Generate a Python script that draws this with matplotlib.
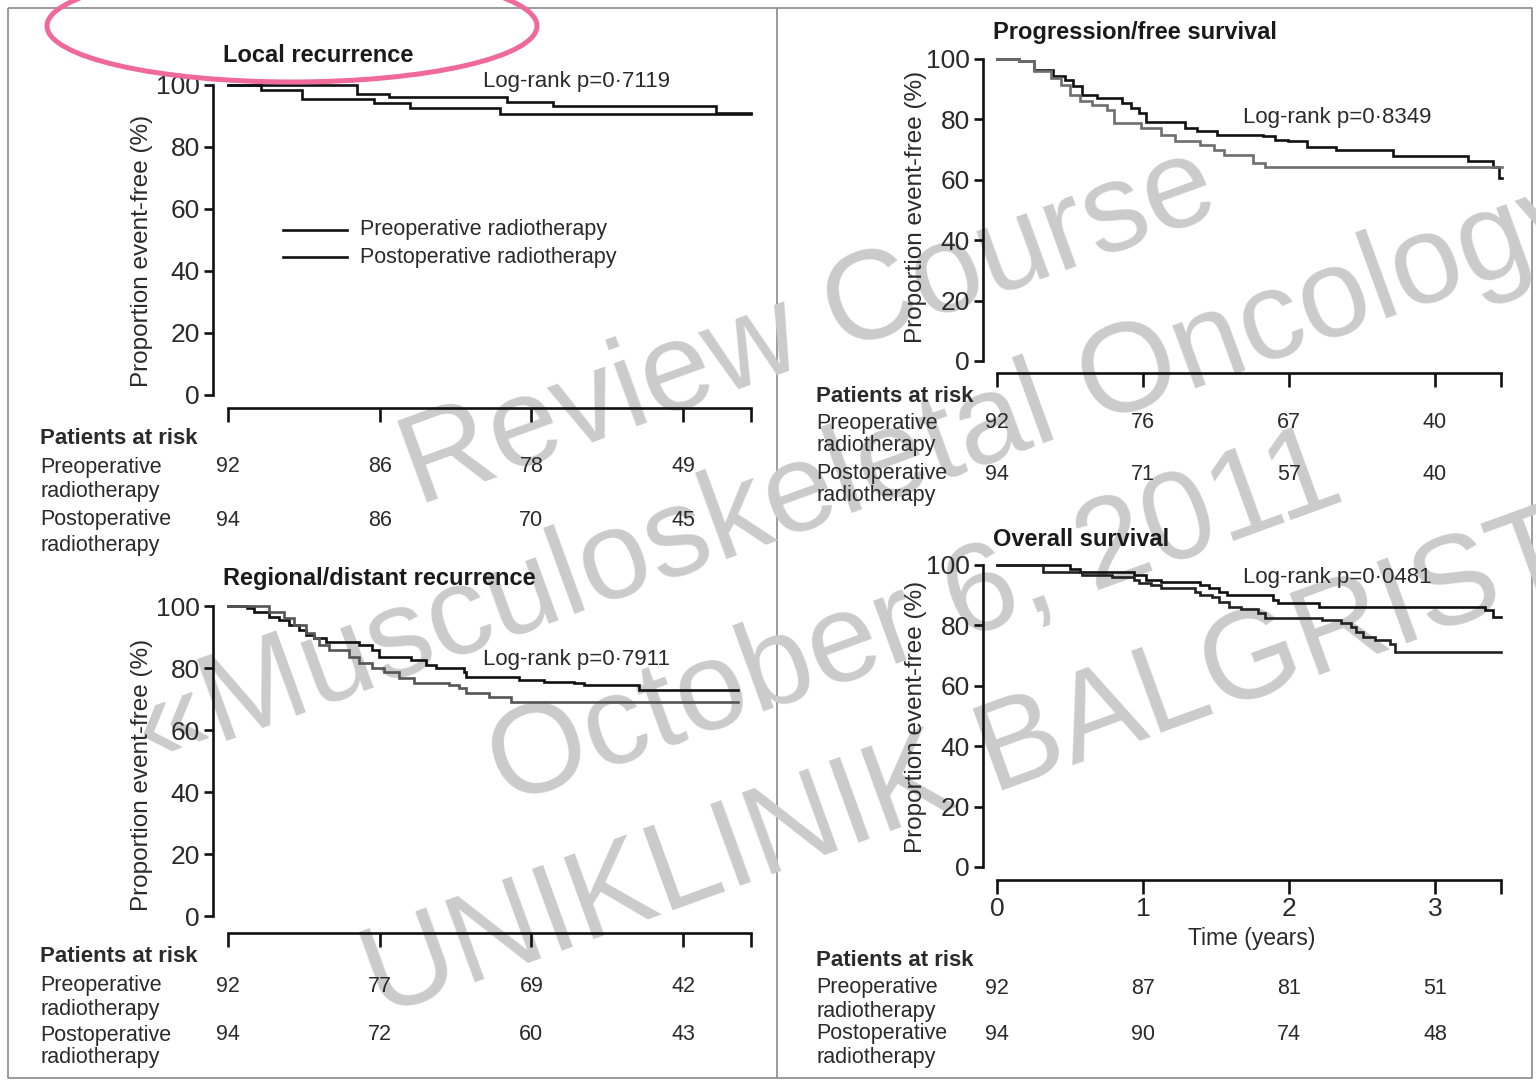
import matplotlib
matplotlib.use("Agg")
import matplotlib.pyplot as plt
from matplotlib.patches import Ellipse
from matplotlib.lines import Line2D
from matplotlib.transforms import blended_transform_factory
import numpy as np

W, H = 1536, 1080
plt.rcParams['font.family'] = ['Liberation Sans', 'DejaVu Sans']
TXT = '#2a2a2a'

# ---------------- data ----------------
years = [0, 1, 2, 3]
row_names = ['Preoperative', 'Postoperative']

# Local recurrence
lr_pre_t = [0, 0.85, 1.06, 1.84, 2.14, 3.22, 3.45]
lr_pre_s = [100, 97.0, 96.2, 94.6, 93.2, 90.9, 90.9]
lr_post_t = [0, 0.22, 0.49, 0.96, 1.20, 1.79, 3.45]
lr_post_s = [100, 98.4, 95.4, 94.3, 92.5, 90.6, 90.6]
lr_risk_pre = [92, 86, 78, 49]
lr_risk_post = [94, 86, 70, 45]
lr_p = 'Log-rank p=0\u00b77119'

# Progression-free survival
pfs_pre_t = [0, 0.15, 0.25, 0.385, 0.468, 0.518, 0.585, 0.686, 0.853, 0.92, 0.97,
             1.02, 1.288, 1.371, 1.505, 1.823, 1.906, 1.99, 2.124, 2.324, 2.709,
             3.227, 3.395, 3.44, 3.46]
pfs_pre_s = [100, 99.2, 96.5, 94.3, 93.1, 90.9, 88.2, 87.1, 85.4, 83.8, 82.1,
             79.3, 77.1, 76.0, 74.9, 74.4, 73.3, 72.7, 71.0, 69.9, 68.0,
             66.1, 64.4, 60.6, 60.6]
pfs_post_t = [0, 0.15, 0.251, 0.368, 0.435, 0.502, 0.569, 0.652, 0.753, 0.803,
              0.987, 1.12, 1.221, 1.388, 1.488, 1.555, 1.756, 1.839, 3.46]
pfs_post_s = [100, 99.2, 95.9, 93.7, 91.5, 88.2, 86.0, 84.9, 83.2, 78.8,
              77.1, 74.9, 72.7, 71.6, 69.9, 68.3, 65.5, 64.4, 64.4]
pfs_risk_pre = [92, 76, 67, 40]
pfs_risk_post = [94, 71, 57, 40]
pfs_p = 'Log-rank p=0\u00b78349'

# Regional/distant recurrence
rd_pre_t = [0, 0.122, 0.171, 0.27, 0.336, 0.402, 0.468, 0.517, 0.567, 0.649,
            0.863, 0.946, 0.995, 1.209, 1.308, 1.374, 1.555, 1.572, 1.918,
            2.082, 2.28, 2.346, 2.708, 3.36]
rd_pre_s = [100, 99.2, 98.2, 96.6, 95.5, 93.9, 92.3, 90.6, 89.6, 88.5,
            87.4, 85.8, 83.7, 82.6, 81.0, 79.9, 78.8, 77.2, 76.1,
            75.6, 75.1, 74.5, 72.9, 72.9]
rd_post_t = [0, 0.27, 0.369, 0.435, 0.517, 0.567, 0.6, 0.666, 0.797, 0.863,
             0.946, 1.028, 1.127, 1.226, 1.456, 1.522, 1.572, 1.72, 1.868, 3.36]
rd_post_s = [100, 98.2, 96.0, 93.9, 91.2, 89.6, 87.4, 85.8, 83.7, 81.5,
             79.9, 78.8, 76.7, 75.1, 74.5, 73.4, 71.8, 70.8, 69.1, 69.1]
rd_risk_pre = [92, 77, 69, 42]
rd_risk_post = [94, 72, 60, 43]
rd_p = 'Log-rank p=0\u00b77911'

# Overall survival
os_pre_t = [0, 0.502, 0.569, 0.936, 1.02, 1.12, 1.388, 1.455, 1.522, 1.572,
            1.89, 1.923, 2.207, 3.344, 3.395, 3.45]
os_pre_s = [100, 98.6, 97.8, 96.7, 95.0, 94.5, 93.4, 92.3, 91.2, 90.1,
            88.4, 87.3, 86.2, 85.1, 82.9, 82.9]
os_post_t = [0, 0.318, 0.585, 0.786, 0.936, 0.97, 1.054, 1.12, 1.355, 1.388,
             1.472, 1.522, 1.589, 1.672, 1.789, 1.839, 2.224, 2.358, 2.425,
             2.458, 2.508, 2.592, 2.692, 2.726, 3.45]
os_post_s = [100, 97.8, 96.7, 96.1, 95.0, 93.9, 93.4, 92.3, 91.2, 90.1,
             89.5, 87.8, 86.2, 85.3, 84.0, 82.3, 81.8, 80.7, 79.6,
             77.9, 76.2, 75.1, 74.0, 71.3, 71.3]
os_risk_pre = [92, 87, 81, 51]
os_risk_post = [94, 90, 74, 48]
os_p = 'Log-rank p=0\u00b70481'

watermark_lines = ['Review Course', '\u00abMusculoskeletal Oncology',
                   'October 6, 2011', 'UNIKLINIK BALGRIST']

# ---------------- figure ----------------
fig = plt.figure(figsize=(W / 100, H / 100), dpi=100)
fig.patch.set_facecolor('white')

# background layer in pixel coordinates (frame + watermark)
bg = fig.add_axes([0, 0, 1, 1], zorder=-10)
bg.set_xlim(0, W)
bg.set_ylim(H, 0)
bg.axis('off')

# foreground layer in pixel coordinates (labels, annotations)
fg = fig.add_axes([0, 0, 1, 1], zorder=5)
fg.set_xlim(0, W)
fg.set_ylim(H, 0)
fg.axis('off')
fg.patch.set_alpha(0)

frame_kw = dict(color='#8a8a8a', lw=1.2, solid_capstyle='butt')
bg.plot([7.5, 1531.5, 1531.5, 7.5, 7.5], [7.5, 7.5, 1078, 1078, 7.5], **frame_kw)
bg.plot([777, 777], [7.5, 1078], **frame_kw)

# watermark block, rotated and centred
ang = np.deg2rad(20)
c, s = np.cos(ang), np.sin(ang)
for i, line in enumerate(watermark_lines):
    a, p = 648, 618 + 156 * i
    x, y = c * a + s * p, -s * a + c * p
    bg.text(x, y, line, rotation=20, rotation_mode='anchor', ha='center',
            va='baseline', fontsize=91, color='#cbcbcb',
            family=['Liberation Sans', 'DejaVu Sans'], clip_on=False)


def make_panel(spine_x, t0_x, per_year, base_y, top_y, xaxis_y, t_end, show_years):
    t_left = (spine_x - t0_x) / per_year
    t_right = 3.6
    right_x = t0_x + t_right * per_year
    ax = fig.add_axes([spine_x / W, 1 - base_y / H, (right_x - spine_x) / W,
                       (base_y - top_y) / H], zorder=1)
    ax.patch.set_alpha(0)
    ax.set_xlim(t_left, t_right)
    ax.set_ylim(0, 100)
    for side in ('top', 'right'):
        ax.spines[side].set_visible(False)
    ax.spines['left'].set_bounds(0, 100)
    ax.spines['bottom'].set_position(('outward', (xaxis_y - base_y) * 0.72))
    ax.spines['bottom'].set_bounds(0, t_end)
    for side in ('left', 'bottom'):
        ax.spines[side].set_linewidth(1.9)
        ax.spines[side].set_color('#111111')
    ax.set_yticks(range(0, 101, 20))
    ax.set_xticks(years + [t_end])
    if show_years:
        ax.set_xticklabels([str(v) for v in years] + [''])
    else:
        ax.set_xticklabels([''] * 5)
    ax.tick_params(axis='y', direction='out', length=6.5, width=1.9, pad=3,
                   labelsize=19, labelcolor=TXT, color='#111111')
    ax.tick_params(axis='x', direction='out', length=10, width=1.9, pad=2,
                   labelsize=19, labelcolor=TXT, color='#111111')
    return ax


def km(ax, t, sv, color):
    ax.step(t, sv, where='post', color=color, lw=1.9, clip_on=False,
            solid_joinstyle='miter')


def risk_table(ax, label_x, head_y, rows_y, pre, post, dy):
    fg.text(label_x, head_y, 'Patients at risk', fontsize=16, fontweight='bold',
            color=TXT, va='center', ha='left')
    tr = blended_transform_factory(ax.transData, fg.transData)
    for name, ry, counts in zip(row_names, rows_y, (pre, post)):
        fg.text(label_x, ry, name, fontsize=15.5, color=TXT, va='center', ha='left')
        fg.text(label_x, ry + dy, 'radiotherapy', fontsize=15.5, color=TXT,
                va='center', ha='left')
        for yr, n in zip(years, counts):
            fg.text(yr, ry, str(n), transform=tr, fontsize=15.5, color=TXT,
                    va='center', ha='center')


def ylabel(x, y):
    fg.text(x, y, 'Proportion event-free (%)', rotation=90, fontsize=17.5,
            color=TXT, ha='center', va='center')


# ---- Local recurrence ----
axA = make_panel(213, 228, 151.7, 395, 85, 408, 3.45, False)
km(axA, lr_pre_t, lr_pre_s, '#111111')
km(axA, lr_post_t, lr_post_s, '#111111')
fg.text(223, 55, 'Local recurrence', fontsize=17, fontweight='bold', color='#1a1a1a',
        va='center', ha='left')
fg.text(483, 82, lr_p, fontsize=16, color=TXT, va='center', ha='left')
ylabel(142, 251)
for yy, lab in zip((230, 257), ('Preoperative radiotherapy', 'Postoperative radiotherapy')):
    fg.add_line(Line2D([283, 347], [yy, yy], color='#111111', lw=1.9))
    fg.text(360, yy, lab, fontsize=15.5, color=TXT, va='center', ha='left')
risk_table(axA, 40, 439, (467, 520), lr_risk_pre, lr_risk_post, 25)

# ---- Regional/distant recurrence ----
axC = make_panel(213, 228, 151.7, 916, 606, 933, 3.45, False)
km(axC, rd_pre_t, rd_pre_s, '#111111')
km(axC, rd_post_t, rd_post_s, '#555555')
fg.text(223, 579, 'Regional/distant recurrence', fontsize=17, fontweight='bold',
        color='#1a1a1a', va='center', ha='left')
fg.text(483, 659, rd_p, fontsize=16, color=TXT, va='center', ha='left')
ylabel(142, 775)
risk_table(axC, 40, 957, (986, 1035), rd_risk_pre, rd_risk_post, 23)

# ---- Progression/free survival ----
axB = make_panel(983, 997, 146, 361, 59, 373, 3.45, False)
km(axB, pfs_pre_t, pfs_pre_s, '#111111')
km(axB, pfs_post_t, pfs_post_s, '#6e6e6e')
fg.text(993, 32, 'Progression/free survival', fontsize=17, fontweight='bold',
        color='#1a1a1a', va='center', ha='left')
fg.text(1243, 118, pfs_p, fontsize=16, color=TXT, va='center', ha='left')
ylabel(916, 207)
risk_table(axB, 816, 396, (423, 474), pfs_risk_pre, pfs_risk_post, 22)

# ---- Overall survival ----
axD = make_panel(983, 997, 146, 867, 565, 880, 3.45, True)
km(axD, os_pre_t, os_pre_s, '#111111')
km(axD, os_post_t, os_post_s, '#222222')
fg.text(993, 540, 'Overall survival', fontsize=17, fontweight='bold',
        color='#1a1a1a', va='center', ha='left')
fg.text(1243, 578, os_p, fontsize=16, color=TXT, va='center', ha='left')
ylabel(916, 717)
fg.text(1252, 938, 'Time (years)', fontsize=16.5, color=TXT, va='center', ha='center')
risk_table(axD, 816, 961, (988, 1034), os_risk_pre, os_risk_post, 23)

# highlight ring around the first panel title
fg.add_patch(Ellipse((292, 26), 490, 112, fill=False, edgecolor='#ef6a9a',
                     lw=3.6, clip_on=False, zorder=20))

fig.savefig('out.png', dpi=100, facecolor='white')
